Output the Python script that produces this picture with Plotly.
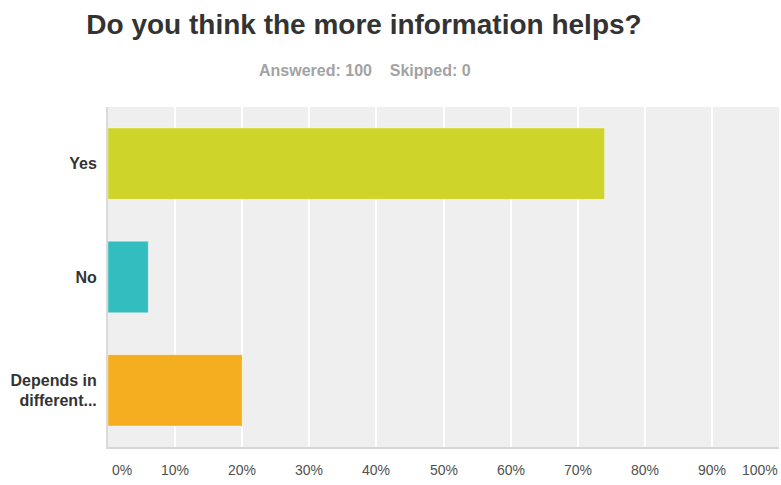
import plotly.graph_objects as go

# Survey responses (percent of respondents)
categories = ["Yes", "No", "Depends in<br>different..."]
percentages = [74, 6, 20]
bar_colors = ["#cfd42a", "#34bdbe", "#f6ae21"]
tick_values = [0, 10, 20, 30, 40, 50, 60, 70, 80, 90, 100]
tick_labels = ["0%", "10%", "20%", "30%", "40%", "50%", "60%", "70%", "80%", "90%", "100%"]

title_text = "Do you think the more information helps?"
subtitle_text = "Answered: 100&nbsp;&nbsp;&nbsp;&nbsp;Skipped: 0"

FONT = "Liberation Sans, Arial, sans-serif"

fig = go.Figure(
    go.Bar(
        x=percentages,
        y=categories,
        orientation="h",
        marker=dict(color=bar_colors, line=dict(color="rgba(255,255,255,0.35)", width=1)),
        hoverinfo="x+y",
    )
)

# Percent labels under the axis; end labels are kept inside the plot width
annotations = []
for i, (v, t) in enumerate(zip(tick_values, tick_labels)):
    anchor = "center"
    xshift = 0
    if i == 0:
        anchor, xshift = "left", 2
    elif i == len(tick_values) - 1:
        anchor, xshift = "right", 1
    annotations.append(dict(
        x=v, y=0, xref="x", yref="paper", text=t, showarrow=False,
        xanchor=anchor, yanchor="middle", yshift=-23, xshift=xshift,
        font=dict(family=FONT, size=14, color="#505050"),
    ))

# Subtitle is placed in pixel terms relative to the plot area
plot_left, plot_right, plot_top, plot_bottom = 108, 779, 107, 447
annotations.append(dict(
    x=(365 - plot_left) / (plot_right - plot_left),
    y=(plot_bottom - 71) / (plot_bottom - plot_top),
    xref="paper", yref="paper", text="<b>" + subtitle_text + "</b>",
    showarrow=False, xanchor="center", yanchor="middle",
    font=dict(family=FONT, size=16, color="#a3a3a3"),
))

fig.update_layout(
    width=781,
    height=485,
    margin=dict(l=plot_left, r=781 - plot_right, t=plot_top, b=485 - plot_bottom),
    paper_bgcolor="white",
    plot_bgcolor="#efefef",
    bargap=0.37,
    showlegend=False,
    title=dict(
        text="<b>" + title_text + "</b>",
        x=364 / 781, xref="container", xanchor="center",
        y=1 - 24 / 485, yref="container", yanchor="middle",
        font=dict(family=FONT, size=28, color="#333333"),
    ),
    xaxis=dict(
        range=[0, 100],
        tickvals=tick_values,
        showticklabels=False,
        showgrid=True,
        gridcolor="#ffffff",
        gridwidth=2,
        zeroline=False,
        showline=True,
        linecolor="#d6d6d6",
        linewidth=2,
        fixedrange=True,
    ),
    yaxis=dict(
        autorange="reversed",
        showgrid=False,
        zeroline=False,
        showline=True,
        linecolor="#dadada",
        linewidth=2,
        ticks="",
        ticklabelstandoff=6,
        tickfont=dict(family=FONT, size=16, color="#333333", weight="bold"),
        fixedrange=True,
    ),
    annotations=annotations,
)

fig.write_html("out.html")
